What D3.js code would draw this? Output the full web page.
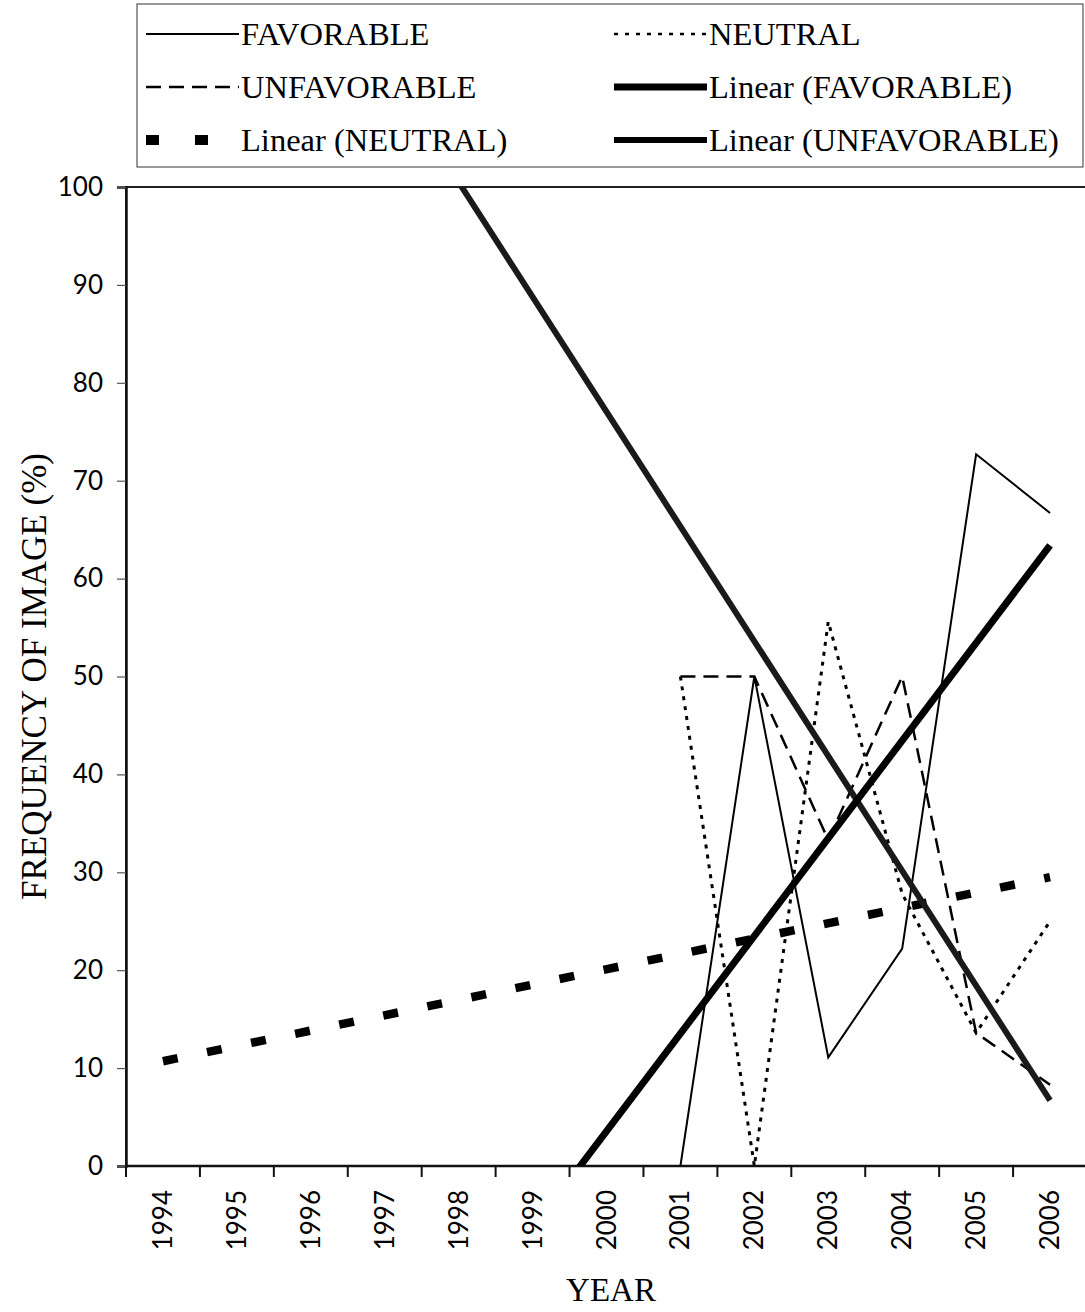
<!DOCTYPE html>
<html>
<head>
<meta charset="utf-8">
<script src="https://cdn.jsdelivr.net/npm/d3@7"></script>
<style>
  html, body { margin: 0; padding: 0; background: #fff; }
  svg { display: block; }
</style>
</head>
<body>
<svg id="chart" width="1085" height="1312"></svg>
<script>
// ---- data ----
const years = ['1994','1995','1996','1997','1998','1999','2000','2001','2002','2003','2004','2005','2006'];
const favorable   = [null,null,null,null,null,null,null, 0, 50, 11.1, 22.2, 72.7, 66.7];
const neutral     = [null,null,null,null,null,null,null, 50, 0, 55.6, 27.8, 13.6, 25];
const unfavorable = [null,null,null,null,null,null,null, 50, 50, 33.3, 50, 13.6, 8.3];
// linear trend lines: values at first and last category
const trendYears = ['1994', '2006'];
const favorableTrend   = [-56.3, 63.4];
const neutralTrend     = [10.7, 29.5];
const unfavorableTrend = [147.4, 6.7];
const yTicks = [0,10,20,30,40,50,60,70,80,90,100];
const legendLabels = ['FAVORABLE','NEUTRAL','UNFAVORABLE','Linear (FAVORABLE)','Linear (NEUTRAL)','Linear (UNFAVORABLE)'];

// ---- layout ----
const svg = d3.select('#chart');
const plot = {left: 126, right: 1087, top: 187, bottom: 1166};
const x = d3.scaleBand().domain(years).range([plot.left, plot.right]).padding(0);
const xc = d => x(d) + x.bandwidth() / 2;
const y = d3.scaleLinear().domain([0, 100]).range([plot.bottom, plot.top]);

const serif = "'Liberation Serif','Times New Roman',serif";
const sans = "Lato, 'Open Sans', sans-serif";

svg.append('defs').append('clipPath').attr('id', 'clip')
  .append('rect').attr('x', plot.left).attr('y', plot.top)
  .attr('width', plot.right - plot.left).attr('height', plot.bottom - plot.top);

// plot area border (top visible)
svg.append('rect').attr('x', plot.left).attr('y', plot.top)
  .attr('width', plot.right - plot.left).attr('height', plot.bottom - plot.top)
  .attr('fill', 'none').attr('stroke', '#222').attr('stroke-width', 2);

// y axis
const yAxis = d3.axisLeft(y).tickValues(yTicks).tickSize(9).tickPadding(14);
const gy = svg.append('g').attr('transform', `translate(${plot.left},0)`).call(yAxis);
gy.select('.domain').attr('stroke', '#111').attr('stroke-width', 2.5);
gy.selectAll('.tick line').attr('stroke', '#555').attr('stroke-width', 1.2);
gy.selectAll('.tick text').attr('font-family', sans).attr('font-size', 26).attr('fill', '#000');

// x axis: ticks at category boundaries
const gx = svg.append('g').attr('transform', `translate(0,${plot.bottom})`);
gx.append('line').attr('x1', plot.left).attr('x2', plot.right).attr('y1', 0).attr('y2', 0)
  .attr('stroke', '#111').attr('stroke-width', 2.5);
const boundaries = years.map(d => x(d)).concat([plot.right]);
gx.selectAll('line.tk').data(boundaries).join('line').attr('class', 'tk')
  .attr('x1', d => d).attr('x2', d => d).attr('y1', 0).attr('y2', 11)
  .attr('stroke', '#111').attr('stroke-width', 2);
gx.selectAll('text').data(years).join('text')
  .attr('transform', d => `translate(${xc(d) + 9},${24}) rotate(-90)`)
  .attr('text-anchor', 'end')
  .attr('font-family', sans).attr('font-size', 26).attr('fill', '#000')
  .text(d => d);

// axis titles
svg.append('text').attr('x', 611).attr('y', 1301).attr('text-anchor', 'middle')
  .attr('font-family', serif).attr('font-size', 33).text('YEAR');
svg.append('text').attr('transform', `translate(46,${(plot.top + plot.bottom) / 2}) rotate(-90)`)
  .attr('text-anchor', 'middle').attr('font-family', serif).attr('font-size', 35)
  .text('FREQUENCY OF IMAGE (%)');

// series
const line = d3.line().defined(d => d.v !== null).x(d => xc(d.k)).y(d => y(d.v));
const seriesDefs = [
  {vals: unfavorable, dash: '15,8', w: 2.5},
  {vals: neutral, dash: '4,6', w: 3},
  {vals: favorable, dash: null, w: 2}
];
const gs = svg.append('g').attr('clip-path', 'url(#clip)');
seriesDefs.forEach(s => {
  gs.append('path').datum(years.map((k, i) => ({k, v: s.vals[i]})))
    .attr('d', line).attr('fill', 'none').attr('stroke', '#000')
    .attr('stroke-width', s.w).attr('stroke-dasharray', s.dash)
    .attr('stroke-linejoin', 'miter');
});

// trend lines
const trendDefs = [
  {vals: neutralTrend, dash: '15,30', w: 8.5, color: '#000', cap: 'butt'},
  {vals: unfavorableTrend, dash: null, w: 6, color: '#1a1a1a', cap: 'butt'},
  {vals: favorableTrend, dash: null, w: 7, color: '#000', cap: 'butt'}
];
trendDefs.forEach(t => {
  gs.append('path').datum(trendYears.map((k, i) => ({k, v: t.vals[i]})))
    .attr('d', line).attr('fill', 'none').attr('stroke', t.color)
    .attr('stroke-width', t.w).attr('stroke-dasharray', t.dash)
    .attr('stroke-linecap', t.cap);
});

// legend
const lg = svg.append('g');
lg.append('rect').attr('x', 137).attr('y', 4).attr('width', 946).attr('height', 163)
  .attr('fill', '#fff').attr('stroke', '#555').attr('stroke-width', 1.2);
const legendItems = [
  {label: legendLabels[0], col: 0, row: 0, dash: null, w: 2},
  {label: legendLabels[1], col: 1, row: 0, dash: '4,7', w: 2.5},
  {label: legendLabels[2], col: 0, row: 1, dash: '15,8', w: 2.5},
  {label: legendLabels[3], col: 1, row: 1, dash: null, w: 7},
  {label: legendLabels[4], col: 0, row: 2, dash: '13,36', w: 10, short: true},
  {label: legendLabels[5], col: 1, row: 2, dash: null, w: 6}
];
const colSample = [[146, 239], [614, 707]];
const colText = [241, 709];
const rowY = [34, 87, 140];
legendItems.forEach(it => {
  const [x0, x1full] = colSample[it.col];
  const x1 = it.short ? x0 + 62 : x1full;
  lg.append('line').attr('x1', x0).attr('x2', x1)
    .attr('y1', rowY[it.row]).attr('y2', rowY[it.row])
    .attr('stroke', '#000').attr('stroke-width', it.w)
    .attr('stroke-dasharray', it.dash);
  lg.append('text').attr('x', colText[it.col]).attr('y', rowY[it.row] + 11)
    .attr('font-family', serif).attr('font-size', 32.5).text(it.label);
});
</script>
</body>
</html>
